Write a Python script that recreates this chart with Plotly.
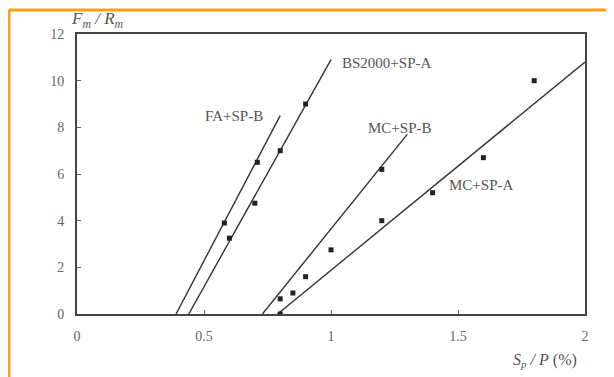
import plotly.graph_objects as go

# Fitted lines (endpoints)
fa_line_x = [0.39, 0.80]
fa_line_y = [0.0, 8.5]
bs_line_x = [0.44, 1.00]
bs_line_y = [0.0, 10.9]
mcb_line_x = [0.73, 1.30]
mcb_line_y = [0.0, 7.7]
mca_line_x = [0.79, 2.00]
mca_line_y = [0.0, 10.8]

# Data points
fa_x = [0.58, 0.71]
fa_y = [3.9, 6.5]
bs_x = [0.60, 0.70, 0.80, 0.90]
bs_y = [3.25, 4.75, 7.0, 9.0]
mcb_x = [0.80, 0.85, 0.90, 1.20]
mcb_y = [0.65, 0.9, 1.6, 6.2]
mca_x = [0.80, 1.00, 1.20, 1.40, 1.60, 1.80]
mca_y = [0.0, 2.75, 4.0, 5.2, 6.7, 10.0]

labels = ["FA+SP-B", "BS2000+SP-A", "MC+SP-B", "MC+SP-A"]
label_x = [0.62, 1.22, 1.27, 1.59]
label_y = [8.5, 10.76, 7.97, 5.53]

x_ticks = [0, 0.5, 1, 1.5, 2]
x_tick_text = ["0", "0.5", "1", "1.5", "2"]
y_ticks = [0, 2, 4, 6, 8, 10, 12]

line_c = "#333333"
txt_c = "#555555"
fig = go.Figure()
for lx, ly in [(fa_line_x, fa_line_y), (bs_line_x, bs_line_y),
               (mcb_line_x, mcb_line_y), (mca_line_x, mca_line_y)]:
    fig.add_trace(go.Scatter(x=lx, y=ly, mode="lines",
                             line=dict(color=line_c, width=1.4),
                             showlegend=False, hoverinfo="skip"))
for px, py in [(fa_x, fa_y), (bs_x, bs_y), (mcb_x, mcb_y), (mca_x, mca_y)]:
    fig.add_trace(go.Scatter(x=px, y=py, mode="markers",
                             marker=dict(color="#222222", size=5, symbol="square"),
                             showlegend=False))
for t, x, y in zip(labels, label_x, label_y):
    fig.add_annotation(x=x, y=y, text=t, showarrow=False,
                       xanchor="center", yanchor="middle",
                       font=dict(family="Liberation Serif", size=15, color=txt_c))

# page has an 8px body margin; figure is placed at (8, 8)
OFF = 8
W, H = 614 - OFF, 377 - OFF
L, R, T, B = 77 - OFF, 29, 34 - OFF, 63
pw, ph = W - L - R, H - T - B
def px2x(p):
    return (p - OFF - L) / pw
def py2y(p):
    return (H - B - (p - OFF)) / ph

orange = "#F7A21B"
fig.add_shape(type="line", xref="paper", yref="paper",
              x0=px2x(9), x1=px2x(620), y0=py2y(10), y1=py2y(10),
              line=dict(color=orange, width=3))
fig.add_shape(type="line", xref="paper", yref="paper",
              x0=px2x(9), x1=px2x(9), y0=py2y(10), y1=py2y(385),
              line=dict(color=orange, width=3))

fig.add_annotation(xref="paper", yref="paper", x=px2x(97), y=py2y(20),
                   xanchor="center", yanchor="middle",
                   text="<i>F<sub>m</sub> / R<sub>m</sub></i>", showarrow=False,
                   font=dict(family="Liberation Serif", size=17, color=txt_c))
fig.add_annotation(xref="paper", yref="paper", x=px2x(545), y=py2y(360),
                   xanchor="center", yanchor="middle",
                   text="<i>S<sub>p</sub> / P</i> (%)", showarrow=False,
                   font=dict(family="Liberation Serif", size=16, color=txt_c))

fig.update_xaxes(range=[0, 2], tickvals=x_ticks, ticktext=x_tick_text,
                 showgrid=False, zeroline=False, showline=True, mirror=True,
                 linecolor="#444444", linewidth=2, ticks="inside", ticklen=4,
                 tickcolor="#666666", ticklabelstandoff=8,
                 tickfont=dict(family="Liberation Serif", size=14, color="#666666"))
fig.update_yaxes(range=[0, 12], tickvals=y_ticks,
                 showgrid=False, zeroline=False, showline=True, mirror=True,
                 linecolor="#444444", linewidth=2, ticks="inside", ticklen=4,
                 tickcolor="#666666", ticklabelstandoff=8,
                 tickfont=dict(family="Liberation Serif", size=14, color="#666666"))
fig.update_layout(width=W, height=H, margin=dict(l=L, r=R, t=T, b=B),
                  plot_bgcolor="white", paper_bgcolor="white")
fig.write_html("out.html")
